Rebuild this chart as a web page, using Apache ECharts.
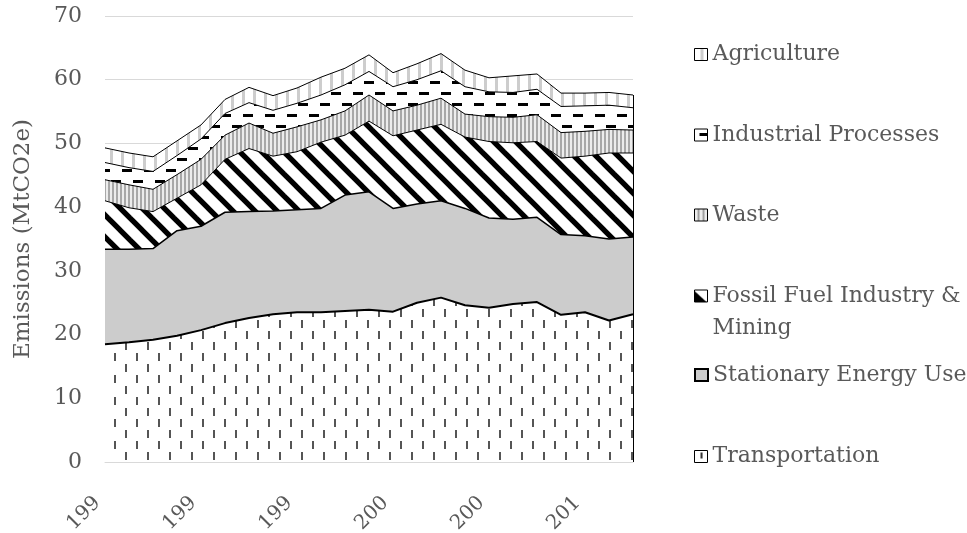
<!DOCTYPE html>
<html>
<head>
<meta charset="utf-8">
<script src="https://cdn.jsdelivr.net/npm/echarts@6/dist/echarts.min.js"></script>
<style>
  html, body { margin: 0; padding: 0; background: #fff; }
  #chart { width: 967px; height: 533px; }
</style>
</head>
<body>
<div id="chart"></div>
<script>
// Emissions by sector, MtCO2e, 1990-2012
const years = ['1990','1991','1992','1993','1994','1995','1996','1997','1998','1999','2000','2001',
               '2002','2003','2004','2005','2006','2007','2008','2009','2010','2011','2012'];
const transportation = [18.5, 18.8, 19.2, 19.8, 20.7, 21.8, 22.6, 23.2, 23.5, 23.5, 23.7, 23.9, 23.6, 25.0, 25.8, 24.6, 24.2, 24.8, 25.1, 23.1, 23.5, 22.2, 23.2];
const stationary     = [14.9, 14.6, 14.3, 16.5, 16.3, 17.4, 16.7, 16.2, 16.1, 16.3, 18.2, 18.5, 16.2, 15.5, 15.2, 15.2, 14.1, 13.3, 13.3, 12.6, 12.0, 12.8, 12.1];
const fossilMining   = [7.6, 6.5, 5.8, 5.1, 6.5, 8.3, 9.9, 8.6, 9.1, 10.4, 9.4, 11.1, 11.4, 11.6, 12.0, 11.2, 12.0, 12.0, 11.9, 12.0, 12.5, 13.5, 13.2];
const waste          = [3.3, 3.6, 3.5, 3.7, 4.0, 3.8, 4.0, 3.6, 3.9, 3.5, 3.8, 4.1, 3.9, 3.9, 4.1, 3.6, 3.9, 4.0, 4.2, 4.0, 3.9, 3.7, 3.6];
const industrial     = [2.7, 2.7, 2.8, 3.0, 3.2, 3.4, 3.2, 3.6, 3.7, 3.9, 4.1, 3.7, 3.8, 4.0, 4.3, 4.3, 3.9, 3.9, 4.0, 4.1, 4.0, 3.8, 3.5];
const agriculture    = [2.3, 2.3, 2.3, 2.3, 2.2, 2.2, 2.4, 2.3, 2.4, 2.8, 2.6, 2.6, 2.2, 2.5, 2.7, 2.6, 2.2, 2.6, 2.4, 2.1, 2.0, 2.0, 2.0];
const yTicks = [0, 10, 20, 30, 40, 50, 60, 70];

const names = ['Transportation', 'Stationary Energy Use', 'Fossil Fuel Industry & Mining',
               'Waste', 'Industrial Processes', 'Agriculture'];
const values = [transportation, stationary, fossilMining, waste, industrial, agriculture];

const FONT = 'DejaVu Serif';
const TEXT = '#595959';

function tile(w, h, draw) {
  const c = document.createElement('canvas');
  c.width = w; c.height = h;
  const g = c.getContext('2d');
  g.fillStyle = '#ffffff';
  g.fillRect(0, 0, w, h);
  draw(g, w, h);
  return { image: c, repeat: 'repeat' };
}

// hatch fills for each sector
const fills = [
  tile(22, 22, g => { g.fillStyle = '#555555'; g.fillRect(4, 1, 2, 8); g.fillRect(15, 12, 2, 8); }),
  '#cccccc',
  tile(22, 22, g => {
    g.strokeStyle = '#000'; g.lineWidth = 5.4;
    for (const k of [-22, 0, 22]) { g.beginPath(); g.moveTo(k - 3, -3); g.lineTo(k + 25, 25); g.stroke(); }
  }),
  tile(4, 4, g => { g.fillStyle = '#ececec'; g.fillRect(0, 0, 4, 4); g.fillStyle = '#a8a8a8'; g.fillRect(0, 0, 2, 4); }),
  tile(22, 22, g => { g.fillStyle = '#000'; g.fillRect(1, 4, 10, 3); g.fillRect(12, 15, 10, 3); }),
  tile(11, 4, g => { g.fillStyle = '#cdcdcd'; g.fillRect(0, 0, 3, 4); })
];
// small swatches for the legend keys
const swatches = [
  tile(13, 12, g => { g.fillStyle = '#333'; g.fillRect(6, 2, 2, 6); }),
  '#cccccc',
  tile(13, 12, g => { g.fillStyle = '#000'; g.beginPath(); g.moveTo(0, 1); g.lineTo(12, 12); g.lineTo(0, 12); g.closePath(); g.fill(); }),
  tile(13, 12, g => { g.fillStyle = '#ececec'; g.fillRect(0, 0, 13, 12); g.fillStyle = '#a0a0a0'; g.fillRect(3, 0, 2, 12); g.fillRect(8, 0, 2, 12); }),
  tile(13, 12, g => { g.fillStyle = '#000'; g.fillRect(5, 4, 8, 3); }),
  tile(13, 12, g => { g.fillStyle = '#cdcdcd'; g.fillRect(6, 0, 3, 12); })
];
const lineWidths = [2, 1.5, 1, 1, 1, 1];

const totals = years.map((_, i) => values.reduce((s, arr) => s + arr[i], 0));
const last = years.length - 1;

const series = names.map((name, k) => ({
  name,
  type: 'line',
  stack: 'total',
  data: values[k],
  symbol: 'none',
  showSymbol: false,
  z: 10 - k,
  lineStyle: { color: '#000', width: lineWidths[k] },
  itemStyle: { color: fills[k], borderColor: '#000' },
  areaStyle: { color: fills[k], opacity: 1 },
  emphasis: { disabled: true }
}));
// outline at both ends of the stack
series[5].markLine = {
  silent: true,
  symbol: 'none',
  label: { show: false },
  lineStyle: { color: '#000', width: 1, type: 'solid' },
  data: [
    [{ coord: [years[0], 0] }, { coord: [years[0], totals[0]] }],
    [{ coord: [years[last], 0] }, { coord: [years[last], totals[last]] }]
  ]
};

// legend entries, listed top to bottom
const legendOrder = [5, 4, 3, 2, 1, 0];
const legendCenters = [54.5, 135, 215, 296, 375, 456.5];
const legend = legendOrder.map((k, i) => {
  const twoLine = k === 2;
  return {
    orient: 'vertical',
    left: 694,
    top: legendCenters[i] - (twoLine ? 48 : 16),
    padding: 0,
    itemWidth: 13,
    itemHeight: 12,
    selectedMode: false,
    // the wrapped entry keeps its first line level with the key
    formatter: twoLine ? ' \nFossil Fuel Industry &\nMining' : '{name}',
    textStyle: { fontFamily: FONT, fontSize: 22, color: TEXT, lineHeight: 32 },
    data: [{
      name: names[k],
      icon: 'rect',
      itemStyle: { color: swatches[k], borderColor: '#000', borderWidth: k === 1 ? 2 : 1 }
    }]
  };
});

const chart = echarts.init(document.getElementById('chart'));
chart.setOption({
  animation: false,
  backgroundColor: '#ffffff',
  grid: { left: 105, right: 334, top: 16, bottom: 71, containLabel: false, outerBoundsMode: 'none' },
  legend,
  xAxis: {
    type: 'category',
    data: years,
    boundaryGap: false,
    axisLine: { lineStyle: { color: '#d9d9d9', width: 1 } },
    axisTick: { show: false },
    axisLabel: {
      interval: 3,
      rotate: 45,
      margin: 30,
      padding: [0, 11, 0, 0],
      fontFamily: FONT, fontSize: 20, color: TEXT,
      formatter: v => v.slice(0, 3)
    },
    splitLine: { show: false }
  },
  yAxis: {
    type: 'value',
    min: yTicks[0],
    max: yTicks[yTicks.length - 1],
    interval: 10,
    name: 'Emissions (MtCO2e)',
    nameLocation: 'middle',
    nameRotate: 90,
    nameGap: 70,
    nameTextStyle: { fontFamily: FONT, fontSize: 23, color: TEXT },
    axisLine: { show: false },
    axisTick: { show: false },
    axisLabel: { margin: 23, fontFamily: FONT, fontSize: 22, color: TEXT },
    splitLine: { lineStyle: { color: '#d9d9d9', width: 1 } }
  },
  series
});
</script>
</body>
</html>
